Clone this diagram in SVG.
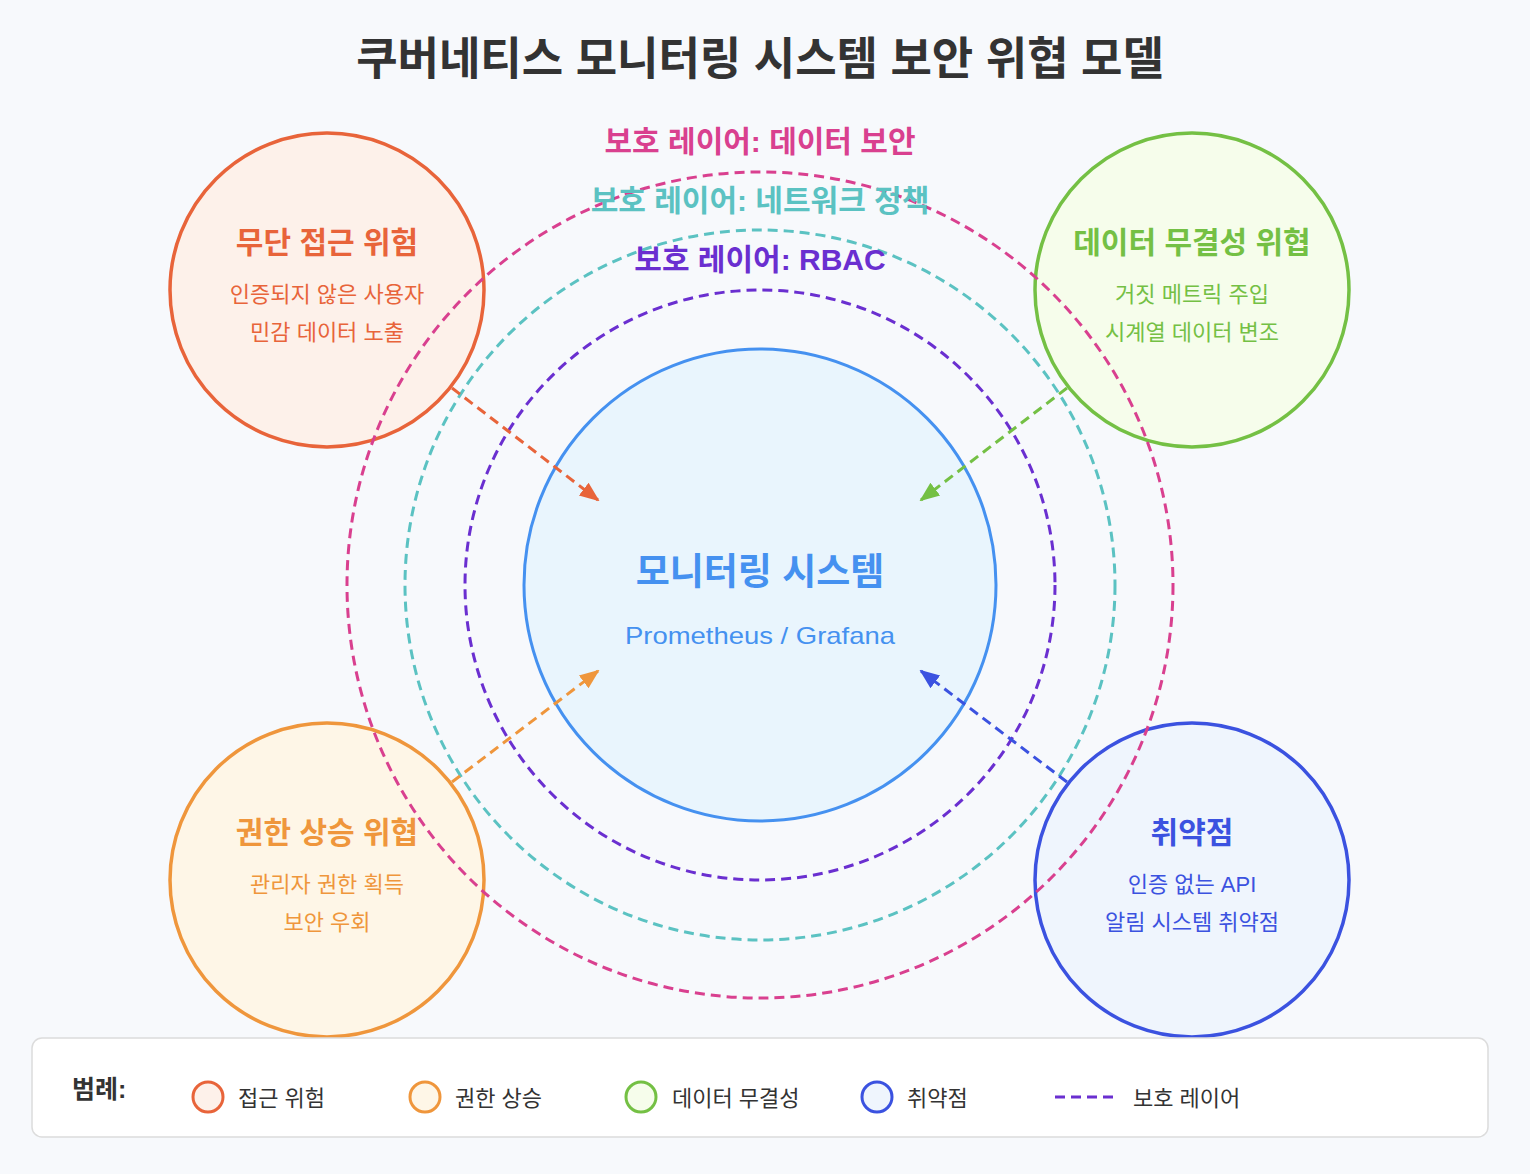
<svg xmlns="http://www.w3.org/2000/svg" width="1530" height="1174" viewBox="0 0 1530 1174">
<defs>
<style>
text{font-family:"Liberation Sans","Noto Sans CJK KR",sans-serif;text-anchor:middle}
.title{font-size:45px;font-weight:bold;fill:#333}
.layer{font-size:30px;font-weight:bold}
.ring{fill:none;stroke-width:3;stroke-dasharray:10 6}
.tt{font-size:30px;font-weight:bold}
.ts{font-size:22px}
.th{stroke-width:3.5}
.arrow{stroke-width:3;stroke-dasharray:10 6;fill:none}
.lg{font-size:22px;fill:#333;text-anchor:start}
.lgh{font-size:25px;font-weight:bold;fill:#333;text-anchor:start}
</style>
<marker id="mOr" viewBox="0 0 20 20" refX="18" refY="10" markerWidth="20" markerHeight="20" markerUnits="userSpaceOnUse" orient="auto"><path d="M0,2 L20,10 L0,18 Z" fill="#e8643a"/></marker>
<marker id="mGr" viewBox="0 0 20 20" refX="18" refY="10" markerWidth="20" markerHeight="20" markerUnits="userSpaceOnUse" orient="auto"><path d="M0,2 L20,10 L0,18 Z" fill="#74c044"/></marker>
<marker id="mOg" viewBox="0 0 20 20" refX="18" refY="10" markerWidth="20" markerHeight="20" markerUnits="userSpaceOnUse" orient="auto"><path d="M0,2 L20,10 L0,18 Z" fill="#ef963c"/></marker>
<marker id="mBl" viewBox="0 0 20 20" refX="18" refY="10" markerWidth="20" markerHeight="20" markerUnits="userSpaceOnUse" orient="auto"><path d="M0,2 L20,10 L0,18 Z" fill="#3b52e0"/></marker>
</defs>
<rect x="0" y="0" width="1530" height="1174" fill="#f7f9fc"/>
<text class="title" x="760" y="75">쿠버네티스 모니터링 시스템 보안 위협 모델</text>

<g id="threat-access">
<circle class="th" cx="327" cy="290" r="157" fill="#fdf1ea" stroke="#e8643a"/>
<text class="tt" x="327" y="253" fill="#e8643a">무단 접근 위험</text>
<text class="ts" x="327" y="302" fill="#e8643a">인증되지 않은 사용자</text>
<text class="ts" x="327" y="340" fill="#e8643a">민감 데이터 노출</text>
</g>
<g id="threat-integrity">
<circle class="th" cx="1192" cy="290" r="157" fill="#f6fdeb" stroke="#74c044"/>
<text class="tt" x="1192" y="253" fill="#74c044">데이터 무결성 위협</text>
<text class="ts" x="1192" y="302" fill="#74c044">거짓 메트릭 주입</text>
<text class="ts" x="1192" y="340" fill="#74c044">시계열 데이터 변조</text>
</g>
<g id="threat-privilege">
<circle class="th" cx="327" cy="880" r="157" fill="#fef6e7" stroke="#ef963c"/>
<text class="tt" x="327" y="843" fill="#ef963c">권한 상승 위협</text>
<text class="ts" x="327" y="892" fill="#ef963c">관리자 권한 획득</text>
<text class="ts" x="327" y="930" fill="#ef963c">보안 우회</text>
</g>
<g id="threat-vuln">
<circle class="th" cx="1192" cy="880" r="157" fill="#eff5fd" stroke="#3b52e0"/>
<text class="tt" x="1192" y="843" fill="#3b52e0">취약점</text>
<text class="ts" x="1192" y="892" fill="#3b52e0">인증 없는 API</text>
<text class="ts" x="1192" y="930" fill="#3b52e0">알림 시스템 취약점</text>
</g>

<g id="layers">
<circle class="ring" cx="760" cy="585" r="413" stroke="#d9408f"/>
<circle class="ring" cx="760" cy="585" r="355" stroke="#5bc2c2"/>
<circle class="ring" cx="760" cy="585" r="295" stroke="#6a2fd0"/>
</g>

<g id="center">
<circle cx="760" cy="585" r="236" fill="#e9f5fd" stroke="#4591f0" stroke-width="3"/>
<text x="760" y="585" font-size="37" font-weight="bold" fill="#4591f0">모니터링 시스템</text>
<text x="760" y="644" font-size="24" fill="#4591f0" textLength="270" lengthAdjust="spacingAndGlyphs">Prometheus / Grafana</text>
</g>

<g id="layer-labels">
<text class="layer" x="760" y="152" fill="#d9408f">보호 레이어: 데이터 보안</text>
<text class="layer" x="760" y="211" fill="#5bc2c2">보호 레이어: 네트워크 정책</text>
<text class="layer" x="760" y="270" fill="#6a2fd0">보호 레이어: RBAC</text>
</g>

<g id="connectors">
<line class="arrow" x1="452" y1="388" x2="598" y2="500" stroke="#e8643a" marker-end="url(#mOr)"/>
<line class="arrow" x1="1067" y1="388" x2="921" y2="500" stroke="#74c044" marker-end="url(#mGr)"/>
<line class="arrow" x1="452" y1="782" x2="598" y2="671" stroke="#ef963c" marker-end="url(#mOg)"/>
<line class="arrow" x1="1067" y1="782" x2="921" y2="671" stroke="#3b52e0" marker-end="url(#mBl)"/>
</g>

<g id="legend">
<rect x="32" y="1038" width="1456" height="99" rx="10" fill="#ffffff" stroke="#dcdcdc" stroke-width="1.5"/>
<text class="lgh" x="72" y="1098">범례:</text>
<circle cx="208" cy="1097" r="15" fill="#fdf1ea" stroke="#e8643a" stroke-width="3"/>
<text class="lg" x="238" y="1106">접근 위험</text>
<circle cx="425" cy="1097" r="15" fill="#fef6e7" stroke="#ef963c" stroke-width="3"/>
<text class="lg" x="455" y="1106">권한 상승</text>
<circle cx="641" cy="1097" r="15" fill="#f6fdeb" stroke="#74c044" stroke-width="3"/>
<text class="lg" x="672" y="1106">데이터 무결성</text>
<circle cx="877" cy="1097" r="15" fill="#eff5fd" stroke="#3b52e0" stroke-width="3"/>
<text class="lg" x="907" y="1106">취약점</text>
<line x1="1055" y1="1097" x2="1113" y2="1097" stroke="#6a2fd0" stroke-width="3" stroke-dasharray="10 6"/>
<text class="lg" x="1133" y="1106">보호 레이어</text>
</g>
</svg>
